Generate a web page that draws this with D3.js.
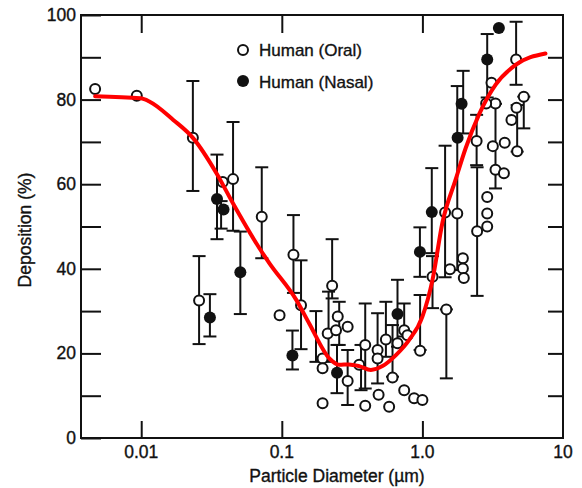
<!DOCTYPE html>
<html>
<head>
<meta charset="utf-8">
<script src="https://cdn.jsdelivr.net/npm/d3@7.9.0/dist/d3.min.js"></script>
<style>
  body { margin: 0; background: #fff; }
  svg text { font-family: "Liberation Sans", Arial, sans-serif; fill: #111; stroke: #111; stroke-width: 0.35px; }
</style>
</head>
<body>
<svg id="chart" width="582" height="488"></svg>
<script>
// oral (open circles)
const oralD = [0.0047, 0.0093, 0.0233, 0.0258, 0.038, 0.045, 0.072, 0.0964, 0.121, 0.137,
  0.228, 0.212, 0.25, 0.243, 0.294, 0.195, 0.195, 0.294, 0.195, 0.392, 0.392, 0.355, 0.48, 0.48,
  0.488, 0.55, 0.58, 0.613, 0.665, 0.742, 0.783, 0.742, 0.873, 1.0, 0.963, 1.18,
  1.45, 1.77, 1.57, 1.48, 1.94, 1.94, 1.97, 2.45, 2.89, 2.89, 2.89, 3.31, 3.8, 4.64, 3.1,
  3.31, 2.84, 5.26, 4.67, 4.3, 4.72, 3.85, 3.17, 2.43];
const oralV = [82.5, 80.9, 71, 32.5, 60.5, 61.2, 52.3, 29, 43.3, 31.4,
  36, 24.7, 28.7, 25.5, 26.3, 18.8, 16.5, 13.5, 8.2, 22, 7.6, 17.3, 20.8, 18.8,
  10.2, 23.3, 7.4, 14.3, 22.4, 25.5, 24.3, 11.3, 9.4, 9, 20.6, 38.1,
  53.3, 53.1, 39.9, 30.4, 42.5, 40.1, 37.8, 48.9, 57, 53.1, 50, 63.4, 62.6, 89.5, 84,
  79.1, 79.1, 80.7, 78.1, 75.2, 67.8, 69.8, 69, 70.2];

// nasal (filled circles)
const nasalD = [0.0308, 0.0346, 0.0385, 0.0507, 0.119, 0.247, 0.665, 0.96, 1.166, 1.78, 1.9, 2.89, 3.5];
const nasalV = [28.5, 56.5, 54, 39.2, 19.5, 15.4, 29.3, 44, 53.4, 71, 79, 89.5, 96.9];

// error bars
const barD = [0.0233, 0.0258, 0.0308, 0.0346, 0.037, 0.045, 0.0507, 0.072, 0.119, 0.121, 0.137,
  0.175, 0.215, 0.228, 0.247, 0.256, 0.294, 0.366, 0.392, 0.48, 0.55, 0.613, 0.665, 0.742,
  0.963, 0.96, 1.166, 1.18, 1.45, 1.48, 1.77, 1.95, 2.43, 2.45, 2.89, 3.31, 4.64, 4.72, 5.26];
const barLo = [58.4, 22.2, 24, 47, 49.5, 49, 29.3, 42.5, 16.2, 34.3, 21,
  18, 18, 33, 10.6, 22, 7.8, 11.3, 11.7, 12.9, 19.2, 14.5, 21.6, 24,
  20.8, 38.1, 43.7, 30.7, 38, 14.1, 39.7, 72, 64.5, 33.6, 80.5, 59, 83.5, 67.7, 73.2];
const barHi = [84.4, 43, 34, 67, 56, 74.7, 48.8, 64, 25.4, 52.7, 42,
  30, 34.6, 47, 22, 32.2, 20.8, 22, 31.8, 29.5, 32.2, 26.7, 37.4, 31.8,
  33.8, 49.8, 63.8, 43, 69.1, 30.4, 83.2, 86.8, 76.4, 64, 95.5, 79, 98.4, 78.7, 80.7];

// fitted curve
const fitD = [0.0047, 0.0099, 0.0115, 0.0169, 0.0234, 0.0343, 0.0449, 0.0695, 0.0817, 0.127,
  0.157, 0.218, 0.256, 0.30, 0.355, 0.43, 0.52, 0.648, 0.805, 1.0, 1.18, 1.39, 1.72, 2.03,
  2.52, 3.31, 4.6, 7.5];
const fitV = [80.8, 80.3, 79.5, 75.2, 70.9, 62.6, 55.5, 44.8, 41.3, 32.6,
  27, 18.8, 17.3, 17.4, 17, 16.1, 17, 19.6, 23.2, 28.7, 37.4, 51, 61, 68.5,
  76.4, 83.5, 88.2, 90.9];

const xTicks = [0.01, 0.1, 1, 10];
const xTickLabels = ["0.01", "0.1", "1.0", "10"];
const yTicks = [0, 20, 40, 60, 80, 100];
const yMinor = [10, 30, 50, 70, 90];

const svg = d3.select("#chart");
const mLeft = 81, mRight = 563, mTop = 15, mBottom = 438;

const x = d3.scaleLog().domain([0.00373, 10]).range([mLeft, mRight]);
const y = d3.scaleLinear().domain([0, 100]).range([mBottom, mTop]);

// frame
svg.append("rect")
  .attr("x", mLeft).attr("y", mTop)
  .attr("width", mRight - mLeft).attr("height", mBottom - mTop)
  .attr("fill", "none").attr("stroke", "#111").attr("stroke-width", 2);

// left ticks (inward)
svg.append("g")
  .attr("transform", `translate(${mLeft},0)`)
  .call(d3.axisRight(y).tickValues(yTicks.concat(yMinor)).tickSize(20).tickFormat(""))
  .call(g => g.select(".domain").remove())
  .call(g => g.selectAll("line").attr("stroke", "#111").attr("stroke-width", 2));

// right ticks (inward)
svg.append("g")
  .attr("transform", `translate(${mRight},0)`)
  .call(d3.axisLeft(y).tickValues(yMinor.concat([20, 40, 60, 80])).tickSize(15).tickFormat(""))
  .call(g => g.select(".domain").remove())
  .call(g => g.selectAll("line").attr("stroke", "#111").attr("stroke-width", 2));

// bottom ticks (inward)
svg.append("g")
  .attr("transform", `translate(0,${mBottom})`)
  .call(d3.axisTop(x).tickValues(xTicks.slice(0, 3)).tickSize(17).tickFormat(""))
  .call(g => g.select(".domain").remove())
  .call(g => g.selectAll("line").attr("stroke", "#111").attr("stroke-width", 2));

// top ticks (inward)
svg.append("g")
  .attr("transform", `translate(0,${mTop})`)
  .call(d3.axisBottom(x).tickValues(xTicks.slice(0, 3)).tickSize(18).tickFormat(""))
  .call(g => g.select(".domain").remove())
  .call(g => g.selectAll("line").attr("stroke", "#111").attr("stroke-width", 2));

// tick labels
svg.append("g").selectAll("text")
  .data(yTicks)
  .join("text")
  .attr("x", mLeft - 5)
  .attr("y", d => y(d) + 6)
  .attr("text-anchor", "end")
  .attr("font-size", 17.5)
  .text(d => d);

svg.append("g").selectAll("text")
  .data(xTicks)
  .join("text")
  .attr("x", d => x(d))
  .attr("y", 458)
  .attr("text-anchor", "middle")
  .attr("font-size", 17.5)
  .text((d, i) => xTickLabels[i]);

// axis titles
svg.append("text")
  .attr("transform", "translate(31,230) rotate(-90)")
  .attr("text-anchor", "middle")
  .attr("font-size", 17.5)
  .text("Deposition (%)");

svg.append("text")
  .attr("x", 337).attr("y", 482)
  .attr("text-anchor", "middle")
  .attr("font-size", 17.5)
  .text("Particle Diameter (\u00b5m)");

// error bars
const bars = svg.append("g").attr("stroke", "#111").attr("stroke-width", 2);
barD.forEach((d, i) => {
  const cx = x(d);
  bars.append("line").attr("x1", cx).attr("x2", cx).attr("y1", y(barLo[i])).attr("y2", y(barHi[i]));
  bars.append("line").attr("x1", cx - 6.5).attr("x2", cx + 6.5).attr("y1", y(barLo[i])).attr("y2", y(barLo[i]));
  bars.append("line").attr("x1", cx - 6.5).attr("x2", cx + 6.5).attr("y1", y(barHi[i])).attr("y2", y(barHi[i]));
});

// oral points
svg.append("g").selectAll("circle")
  .data(oralD)
  .join("circle")
  .attr("cx", d => x(d))
  .attr("cy", (d, i) => y(oralV[i]))
  .attr("r", 5)
  .attr("fill", "#fff")
  .attr("stroke", "#111")
  .attr("stroke-width", 2);

// nasal points
svg.append("g").selectAll("circle")
  .data(nasalD)
  .join("circle")
  .attr("cx", d => x(d))
  .attr("cy", (d, i) => y(nasalV[i]))
  .attr("r", 6)
  .attr("fill", "#111");

// fit curve
const line = d3.line()
  .x(d => x(d))
  .y((d, i) => y(fitV[i]))
  .curve(d3.curveMonotoneX);

svg.append("path")
  .attr("d", line(fitD))
  .attr("fill", "none")
  .attr("stroke", "#f00")
  .attr("stroke-width", 4)
  .attr("stroke-linecap", "round");

// legend
svg.append("circle").attr("cx", 243).attr("cy", 50).attr("r", 5)
  .attr("fill", "#fff").attr("stroke", "#111").attr("stroke-width", 2);
svg.append("text").attr("x", 259).attr("y", 56).attr("font-size", 17).text("Human (Oral)");
svg.append("circle").attr("cx", 243).attr("cy", 81).attr("r", 6).attr("fill", "#111");
svg.append("text").attr("x", 259).attr("y", 88).attr("font-size", 17).text("Human (Nasal)");
</script>
</body>
</html>
